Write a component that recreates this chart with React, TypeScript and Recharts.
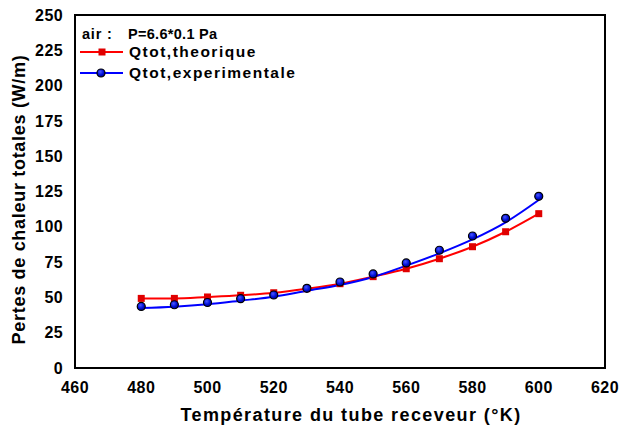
import { ComposedChart, Line, XAxis, YAxis, ReferenceArea, Customized } from 'recharts'

const temps = [480, 490, 500, 510, 520, 530, 540, 550, 560, 570, 580, 590, 600]
const qTheo = [49.3, 49.3, 50.3, 51.5, 53.3, 56.2, 59.7, 64.7, 70.3, 77.4, 85.9, 96.5, 109.3]
const qExp = [43.6, 44.8, 46.4, 49.1, 51.7, 56.4, 60.9, 66.6, 74.4, 83.4, 93.5, 106, 121.6]
const qExpFit = [42.5, 43.4, 45.1, 47.7, 50.5, 54.7, 58.8, 64.5, 72.5, 81.2, 91.1, 103.2, 119]
const xTicks = [460, 480, 500, 520, 540, 560, 580, 600, 620]
const yTicks = [0, 25, 50, 75, 100, 125, 150, 175, 200, 225, 250]

const data = temps.map((t, i) => ({ t, theo: qTheo[i], exp: qExp[i], fit: qExpFit[i] }))

const FONT = 'Liberation Sans, Arial, sans-serif'
const tickStyle = { fill: '#000', fontSize: 16, fontWeight: 700, fontFamily: FONT, letterSpacing: 0.4 }

const Square = ({ cx, cy }: any) => (
  <rect x={cx - 3.5} y={cy - 3.5} width={7} height={7} fill="#e00000" />
)

const Ball = ({ cx, cy }: any) => (
  <circle cx={cx} cy={cy} r={4} fill="url(#ballGrad)" stroke="#000" strokeWidth={1.2} />
)

const LegendBox = () => (
  <g fontFamily={FONT} fontWeight={700} fontSize={15.5} letterSpacing={1.5} fill="#000">
    <defs>
      <radialGradient id="ballGrad" cx="40%" cy="35%" r="65%">
        <stop offset="0%" stopColor="#4a56ff" />
        <stop offset="60%" stopColor="#0010d8" />
        <stop offset="100%" stopColor="#000090" />
      </radialGradient>
    </defs>
    <text x={82} y={39} fontSize={14.5} letterSpacing={0.8}>air :</text>
    <text x={128} y={39} fontSize={14.5} letterSpacing={0.3}>P=6.6*0.1 Pa</text>
    <line x1={80} x2={123} y1={52} y2={52} stroke="#ff0000" strokeWidth={2} />
    <rect x={98.5} y={48.5} width={7} height={7} fill="#e00000" />
    <text x={129} y={57}>Qtot,theorique</text>
    <line x1={80} x2={123} y1={73} y2={73} stroke="#0000ff" strokeWidth={2} />
    <circle cx={101} cy={73} r={4} fill="url(#ballGrad)" stroke="#000" strokeWidth={1.2} />
    <text x={129} y={78}>Qtot,experimentale</text>
  </g>
)

const YTitle = ({ viewBox }: any) => {
  const x = 19
  const y = viewBox.y + viewBox.height / 2 + 8
  return (
    <text x={x} y={y} transform={`rotate(-90 ${x} ${y})`} textAnchor="middle" dominantBaseline="central"
      fontFamily={FONT} fontWeight={700} fontSize={18} letterSpacing={0.7} fill="#000">
      Pertes de chaleur totales (W/m)
    </text>
  )
}

const XTitle = ({ viewBox }: any) => {
  const x = viewBox.x + viewBox.width / 2 + 11
  return (
    <text x={x} y={415} textAnchor="middle" dominantBaseline="central"
      fontFamily={FONT} fontWeight={700} fontSize={18} letterSpacing={1.4} fill="#000">
      Température du tube receveur (°K)
    </text>
  )
}

export default function App() {
  return (
    <div style={{ position: 'absolute', left: 0, top: 0, background: '#fff' }}>
      <ComposedChart width={621} height={426} data={data} margin={{ top: 15, right: 16, left: 0, bottom: 28 }}>
        <XAxis
          dataKey="t" type="number" domain={[460, 620]} ticks={xTicks} height={30}
          tick={tickStyle} tickLine={false} tickMargin={8}
          axisLine={{ stroke: '#000', strokeWidth: 2 }}
          label={{ content: XTitle }}
        />
        <YAxis
          type="number" domain={[0, 250]} ticks={yTicks} width={75}
          tick={tickStyle} tickLine={false} tickMargin={6}
          axisLine={{ stroke: '#000', strokeWidth: 2 }}
          label={{ content: YTitle }}
        />
        <ReferenceArea x1={460} x2={620} y1={0} y2={250} fill="none" stroke="#000" strokeWidth={2} ifOverflow="visible" />
        <Line dataKey="theo" type="monotone" stroke="#ff0000" strokeWidth={2} dot={<Square />} isAnimationActive={false} />
        <Line dataKey="fit" type="monotone" stroke="#0000ff" strokeWidth={2} dot={false} isAnimationActive={false} />
        <Line dataKey="exp" stroke="none" dot={<Ball />} isAnimationActive={false} />
        <Customized component={LegendBox} />
      </ComposedChart>
    </div>
  )
}
